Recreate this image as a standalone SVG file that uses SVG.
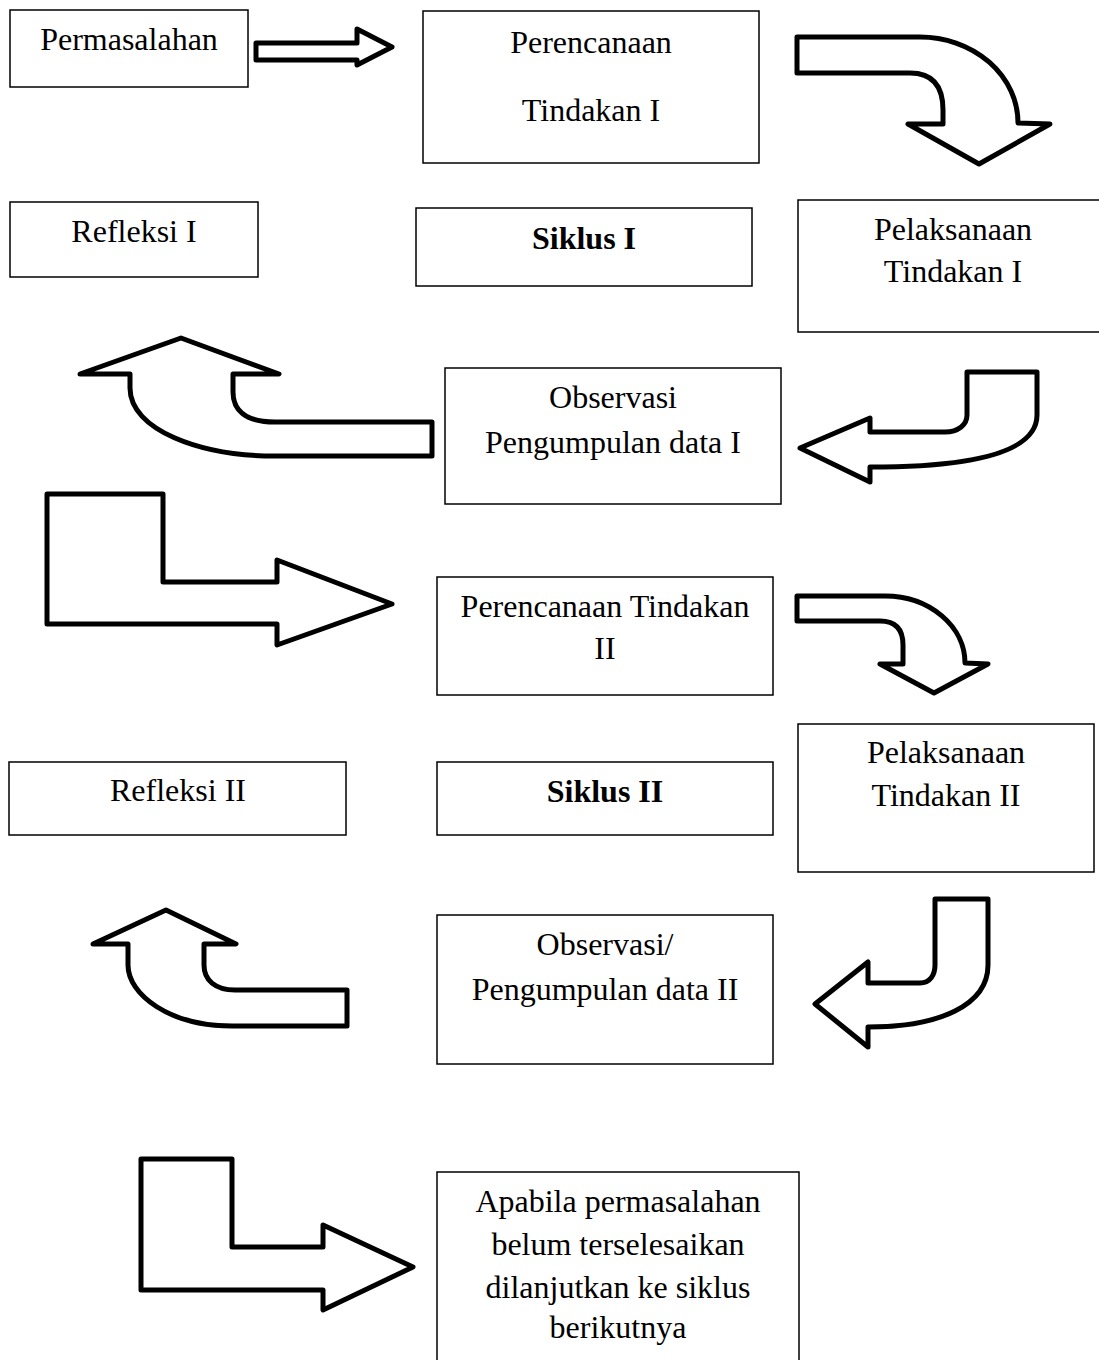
<svg xmlns="http://www.w3.org/2000/svg" width="1099" height="1360" viewBox="0 0 1099 1360">
<style>
.box{fill:#fff;stroke:#000;stroke-width:1.5}
.t{font-family:"Liberation Serif","Times New Roman",serif;font-size:32px;fill:#000;text-anchor:middle}
.b{font-weight:bold}
.arr{fill:#fff;stroke:#000;stroke-width:5;stroke-linejoin:round}
</style>
<rect width="1099" height="1360" fill="#fff"/>
<g id="connectors">
<path class="arr" d="M256,43 L357,43 L357,29 L392,47 L357,65 L357,60 L256,60 Z"/>
<path class="arr" d="M797,37 L920,37 A98 86 0 0 1 1018,123 L1050,124 L979,164 L908,124 L943,124 L943,110 Q943,73 910,73 L797,73 Z"/>
<path class="arr" d="M432,456 L275,456 C200,456 130,430 130,388 L130,374 L80,374 L181,338 L279,374 L233,374 L233,392 C233,410 245,422 275,422 L432,422 Z"/>
<path class="arr" d="M967,372 L1037,372 L1037,415 C1037,450 980,467 870,467 L870,482 L800,448 L870,418 L870,432 L945,432 C958,432 967,425 967,415 Z"/>
<path class="arr" d="M47,494 L163,494 L163,582 L277,582 L277,560 L392,604 L277,645 L277,624 L47,624 Z"/>
<path class="arr" d="M797,596 L885,596 A80 67 0 0 1 965,663 L988,664 L934,693 L880,664 L903,664 L903,645 Q903,621 880,621 L797,621 Z"/>
<path class="arr" d="M347,1026 L232,1026 C170,1026 128,995 128,965 L128,944 L93,944 L166,910 L236,944 L204,944 L204,965 C204,980 215,990 235,990 L347,990 Z"/>
<path class="arr" d="M935,899 L988,899 L988,965 C988,1005 940,1027 868,1027 L868,1047 L815,1004 L868,962 L868,983 L920,983 C930,983 935,975 935,965 Z"/>
<path class="arr" d="M141,1159 L232,1159 L232,1247 L323,1247 L323,1225 L413,1267 L323,1310 L323,1290 L141,1290 Z"/>
</g>
<g id="n-permasalahan"><rect class="box" x="10" y="10" width="238" height="77"/><text class="t" x="129" y="50">Permasalahan</text></g>
<g id="n-perencanaan1"><rect class="box" x="423" y="11" width="336" height="152"/><text class="t" x="591" y="53">Perencanaan</text><text class="t" x="591" y="121">Tindakan I</text></g>
<g id="n-refleksi1"><rect class="box" x="10" y="202" width="248" height="75"/><text class="t" x="134" y="242">Refleksi I</text></g>
<g id="n-siklus1"><rect class="box" x="416" y="208" width="336" height="78"/><text class="t b" x="584" y="249">Siklus I</text></g>
<g id="n-pelaksanaan1"><rect class="box" x="798" y="200" width="310" height="132"/><text class="t" x="953" y="240">Pelaksanaan</text><text class="t" x="953" y="282">Tindakan I</text></g>
<g id="n-observasi1"><rect class="box" x="445" y="368" width="336" height="136"/><text class="t" x="613" y="408">Observasi</text><text class="t" x="613" y="453">Pengumpulan data I</text></g>
<g id="n-perencanaan2"><rect class="box" x="437" y="577" width="336" height="118"/><text class="t" x="605" y="617">Perencanaan Tindakan</text><text class="t" x="605" y="659">II</text></g>
<g id="n-pelaksanaan2"><rect class="box" x="798" y="724" width="296" height="148"/><text class="t" x="946" y="763">Pelaksanaan</text><text class="t" x="946" y="806">Tindakan II</text></g>
<g id="n-refleksi2"><rect class="box" x="9" y="762" width="337" height="73"/><text class="t" x="178" y="801">Refleksi II</text></g>
<g id="n-siklus2"><rect class="box" x="437" y="762" width="336" height="73"/><text class="t b" x="605" y="802">Siklus II</text></g>
<g id="n-observasi2"><rect class="box" x="437" y="915" width="336" height="149"/><text class="t" x="605" y="955">Observasi/</text><text class="t" x="605" y="1000">Pengumpulan data II</text></g>
<g id="n-apabila"><rect class="box" x="437" y="1172" width="362" height="200"/><text class="t" x="618" y="1212">Apabila permasalahan</text><text class="t" x="618" y="1255">belum terselesaikan</text><text class="t" x="618" y="1298">dilanjutkan ke siklus</text><text class="t" x="618" y="1338">berikutnya</text></g>
</svg>
